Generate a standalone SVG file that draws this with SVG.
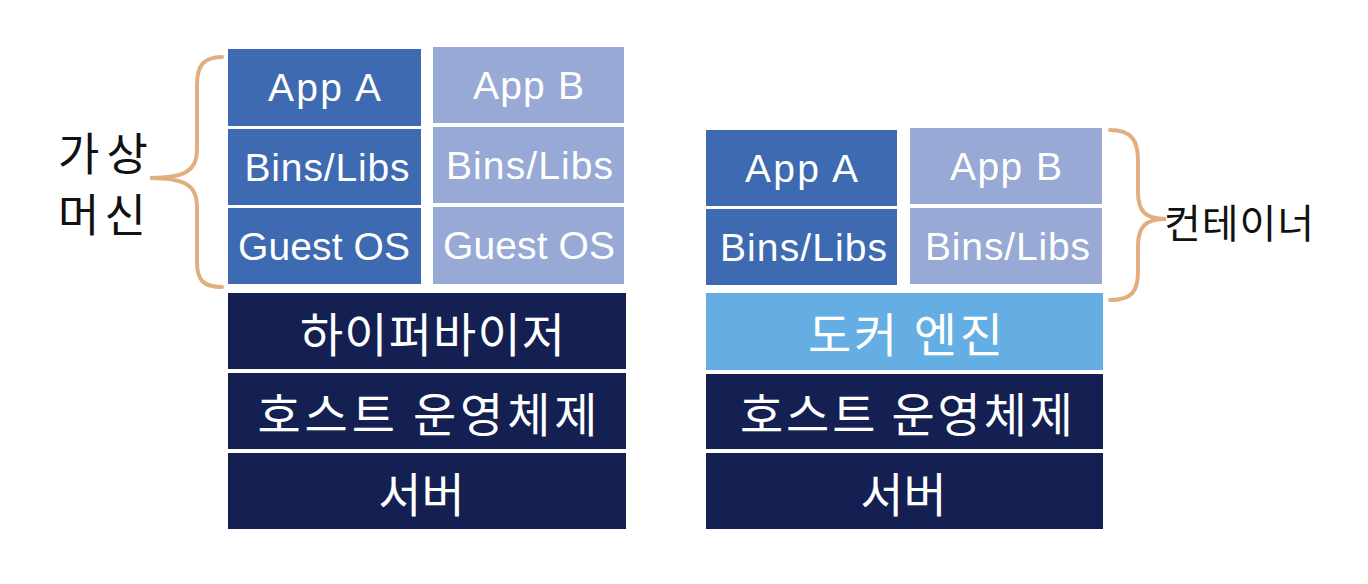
<svg xmlns="http://www.w3.org/2000/svg" width="1368" height="584" viewBox="0 0 1368 584">
<style>
.a{fill:#3E6AB1}
.b{fill:#97A9D4}
.n{fill:#132051}
.d{fill:#65AEE4}
.lt{font-family:"Liberation Sans",Arial,sans-serif;font-size:39px;fill:#fff;text-anchor:middle;dominant-baseline:central}
.kt{font-family:"Noto Sans CJK KR","Noto Sans",sans-serif;font-size:47px;fill:#fff;text-anchor:middle;dominant-baseline:central}
.lab{font-family:"Noto Sans CJK KR","Noto Sans",sans-serif;fill:#111;dominant-baseline:central}
.brace{fill:none;stroke:#E2AE80;stroke-width:4;stroke-linecap:round}
</style>
<rect width="1368" height="584" fill="#fff"/>
<g id="vm-appA"><rect class="a" x="228" y="49" width="193" height="77"/><text class="lt" x="324.5" y="87.5" textLength="113" lengthAdjust="spacing">App A</text></g>
<g id="vm-binsA"><rect class="a" x="228" y="129" width="193" height="76"/><text class="lt" x="327" y="167" textLength="165" lengthAdjust="spacing">Bins/Libs</text></g>
<g id="vm-guestA"><rect class="a" x="228" y="208" width="193" height="76"/><text class="lt" x="324" y="246" textLength="172" lengthAdjust="spacing">Guest OS</text></g>
<g id="vm-appB"><rect class="b" x="433" y="47" width="191" height="76"/><text class="lt" x="528.5" y="85.5" textLength="111" lengthAdjust="spacing">App B</text></g>
<g id="vm-binsB"><rect class="b" x="433" y="127" width="191" height="76"/><text class="lt" x="529.5" y="165" textLength="167" lengthAdjust="spacing">Bins/Libs</text></g>
<g id="vm-guestB"><rect class="b" x="433" y="207" width="191" height="77"/><text class="lt" x="529" y="245.5" textLength="172" lengthAdjust="spacing">Guest OS</text></g>
<g id="vm-hypervisor"><rect class="n" x="228" y="293" width="398" height="76"/><text class="kt" x="432.5" y="331" textLength="265" lengthAdjust="spacing">하이퍼바이저</text></g>
<g id="vm-hostos"><rect class="n" x="228" y="373" width="398" height="76"/><text class="kt" x="427.5" y="411" textLength="340" lengthAdjust="spacing">호스트 운영체제</text></g>
<g id="vm-server"><rect class="n" x="228" y="453" width="398" height="76"/><text class="kt" x="421.5" y="491">서버</text></g>

<g id="ct-appA"><rect class="a" x="706" y="130" width="191" height="76"/><text class="lt" x="801.5" y="168" textLength="113" lengthAdjust="spacing">App A</text></g>
<g id="ct-binsA"><rect class="a" x="706" y="209" width="191" height="76"/><text class="lt" x="803.5" y="247" textLength="167" lengthAdjust="spacing">Bins/Libs</text></g>
<g id="ct-appB"><rect class="b" x="910" y="128" width="192" height="76"/><text class="lt" x="1006" y="166" textLength="112" lengthAdjust="spacing">App B</text></g>
<g id="ct-binsB"><rect class="b" x="910" y="208" width="192" height="76"/><text class="lt" x="1007.5" y="246" textLength="165" lengthAdjust="spacing">Bins/Libs</text></g>
<g id="ct-docker"><rect class="d" x="706" y="293" width="397" height="77"/><text class="kt" x="905.5" y="331.5" textLength="195" lengthAdjust="spacing">도커 엔진</text></g>
<g id="ct-hostos"><rect class="n" x="706" y="374" width="397" height="75"/><text class="kt" x="906.5" y="411.5" textLength="333" lengthAdjust="spacing">호스트 운영체제</text></g>
<g id="ct-server"><rect class="n" x="706" y="453" width="397" height="76"/><text class="kt" x="903.5" y="491">서버</text></g>

<g id="connectors">
<path class="brace" d="M222,57 C203,57 197,66 197,85 L197,150 C197,170 186,178 150,178 C186,178 197,186 197,206 L197,262 C197,280 203,287 222,287"/>
<path class="brace" d="M1110,130 C1131,130 1138,140 1138,160 L1138,192 C1138,212 1146,219 1166,219 C1146,219 1138,226 1138,246 L1138,272 C1138,292 1131,300 1110,300"/>
</g>

<g id="label-vm">
<text class="lab" x="103" y="151" font-size="45" text-anchor="middle" textLength="90" lengthAdjust="spacing">가상</text>
<text class="lab" x="102" y="212" font-size="45" text-anchor="middle" textLength="88" lengthAdjust="spacing">머신</text>
</g>
<g id="label-container">
<text class="lab" x="1164" y="221" font-size="40" textLength="150" lengthAdjust="spacing">컨테이너</text>
</g>
</svg>
